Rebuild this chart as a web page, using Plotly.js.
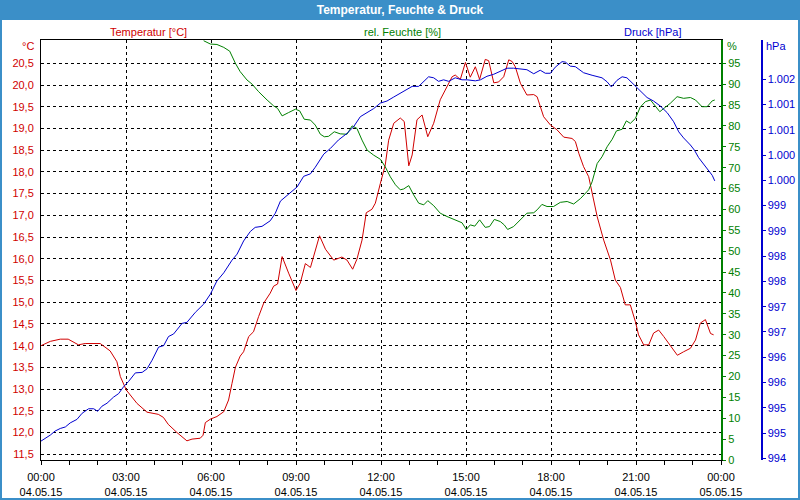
<!DOCTYPE html>
<html><head><meta charset="utf-8">
<script src="https://cdn.plot.ly/plotly-3.0.1.min.js"></script>
<style>html,body{margin:0;padding:0;background:#fff}#chart{width:800px;height:500px}</style>
</head><body><div id="chart"></div>
<script>
const chartTitle = "Temperatur, Feuchte & Druck";
const seriesNames = ["Temperatur [°C]", "rel. Feuchte [%]", "Druck [hPa]"];
const unitLabels = ["°C", "%", "hPa"];

const tempHours = [0,0.33,0.68,0.96,1.32,1.56,2.09,2.44,2.68,2.80,3.01,3.39,3.74,4.14,4.32,4.49,4.80,5.15,5.33,5.62,5.72,5.80,5.98,6.21,6.45,6.62,6.74,6.86,7.03,7.15,7.33,7.50,7.68,7.86,8.09,8.21,8.35,8.51,8.74,9.00,9.15,9.33,9.51,9.68,9.83,10.04,10.33,10.62,10.80,11.00,11.15,11.33,11.48,11.68,11.80,11.98,12.15,12.27,12.45,12.68,12.82,12.98,13.10,13.27,13.45,13.65,13.86,14.09,14.33,14.51,14.62,14.80,14.98,15.15,15.33,15.48,15.68,15.80,15.98,16.15,16.33,16.51,16.63,16.74,16.92,17.15,17.39,17.51,17.74,17.98,18.21,18.45,18.74,18.86,18.98,19.15,19.33,19.45,19.63,19.86,20.10,20.27,20.45,20.62,20.80,20.98,21.09,21.27,21.45,21.62,21.80,21.98,22.15,22.33,22.46,22.68,22.92,23.10,23.27,23.45,23.63,23.74];
const tempValues = [14.00,14.10,14.15,14.15,14.02,14.05,14.05,13.88,13.63,13.29,12.98,12.67,12.47,12.42,12.35,12.19,12.00,11.81,11.85,11.87,11.94,12.23,12.31,12.37,12.48,12.75,13.13,13.50,13.76,13.86,14.21,14.32,14.67,14.98,15.21,15.37,15.42,16.05,15.67,15.27,15.44,15.89,15.80,16.20,16.53,16.22,15.97,16.04,15.97,15.76,15.99,16.43,17.06,17.14,17.28,17.74,18.16,18.73,19.12,19.24,19.16,18.14,18.39,19.20,19.31,18.81,19.12,19.66,19.96,20.19,20.23,20.13,20.52,20.18,20.42,20.13,20.59,20.56,20.05,20.07,20.19,20.58,20.54,20.42,20.04,19.77,19.78,19.73,19.27,19.08,18.97,18.80,18.77,18.70,18.43,18.12,17.89,17.51,16.97,16.43,15.97,15.51,15.34,14.94,14.94,14.55,14.25,14.02,14.02,14.29,14.36,14.21,14.06,13.90,13.78,13.86,13.94,14.13,14.52,14.60,14.28,14.25];

const humHours = [5.74,5.98,6.21,6.45,6.66,6.86,7.03,7.27,7.45,7.68,7.98,8.21,8.35,8.51,8.74,8.98,9.13,9.29,9.51,9.68,9.86,10.00,10.15,10.35,10.56,10.80,10.98,11.15,11.33,11.51,11.74,11.98,12.15,12.33,12.51,12.68,12.80,12.98,13.15,13.33,13.51,13.65,13.86,14.09,14.33,14.62,14.86,15.01,15.15,15.31,15.48,15.68,15.83,16.00,16.21,16.35,16.47,16.68,16.92,17.15,17.39,17.51,17.68,17.86,18.09,18.33,18.57,18.80,19.04,19.33,19.45,19.63,19.80,19.98,20.16,20.31,20.51,20.66,20.80,20.98,21.15,21.33,21.51,21.68,21.84,22.04,22.21,22.45,22.68,22.92,23.10,23.33,23.51,23.69,23.78];
const humValues = [100.4,99.6,99.5,98.8,97.9,95.0,93.0,91.0,90.0,88.2,86.2,84.8,84.2,82.4,83.2,84.0,83.6,81.6,81.4,80.2,78.0,77.4,77.5,78.6,78.1,78.0,80.0,79.4,76.6,74.2,73.0,72.0,70.2,67.8,65.9,64.7,64.9,65.7,63.5,61.5,61.1,62.1,60.9,59.1,58.3,57.5,56.8,55.2,56.3,56.0,57.5,55.7,55.9,57.6,57.1,56.3,55.2,55.9,57.5,59.1,59.2,59.9,61.2,60.7,60.7,61.7,61.9,61.3,62.6,64.7,66.6,71.0,72.6,75.0,76.8,78.8,79.2,81.2,80.6,81.8,84.5,85.8,86.2,84.6,83.4,84.5,85.4,87.0,86.6,86.8,86.2,84.6,84.6,86.0,86.2];

const presHours = [0,0.21,0.33,0.50,0.68,0.86,1.03,1.27,1.45,1.68,1.86,2.00,2.15,2.33,2.56,2.74,2.92,3.09,3.33,3.57,3.74,3.92,4.15,4.33,4.50,4.68,4.98,5.15,5.45,5.74,5.98,6.21,6.45,6.74,6.92,7.15,7.39,7.56,7.80,8.09,8.27,8.45,8.68,8.80,9.04,9.27,9.51,9.68,9.98,10.21,10.50,10.80,11.03,11.27,11.51,11.74,11.98,12.21,12.45,12.68,12.92,13.10,13.33,13.51,13.68,13.86,14.03,14.21,14.39,14.62,14.86,15.04,15.33,15.51,15.74,15.98,16.21,16.45,16.68,16.92,17.15,17.39,17.62,17.80,17.98,18.15,18.39,18.51,18.68,18.86,19.15,19.45,19.80,19.98,20.13,20.33,20.51,20.68,20.86,21.04,21.21,21.39,21.62,21.86,22.10,22.33,22.51,22.68,22.92,23.06,23.21,23.39,23.56,23.69,23.78];
const presValues = [994.34,994.41,994.46,994.54,994.59,994.62,994.70,994.77,994.89,994.98,994.98,994.93,995.03,995.09,995.21,995.28,995.42,995.52,995.69,995.70,995.77,995.94,996.20,996.23,996.41,996.46,996.67,996.69,996.89,997.05,997.25,997.51,997.67,997.92,998.04,998.30,998.49,998.57,998.59,998.70,998.85,999.09,999.20,999.27,999.37,999.58,999.63,999.76,1000.02,1000.13,1000.30,1000.43,1000.56,1000.76,1000.84,1000.92,1001.03,1001.07,1001.15,1001.22,1001.30,1001.36,1001.36,1001.45,1001.55,1001.53,1001.46,1001.49,1001.46,1001.53,1001.49,1001.49,1001.47,1001.49,1001.56,1001.60,1001.66,1001.72,1001.72,1001.71,1001.69,1001.61,1001.68,1001.62,1001.62,1001.74,1001.85,1001.84,1001.76,1001.75,1001.63,1001.58,1001.53,1001.45,1001.35,1001.48,1001.55,1001.53,1001.43,1001.35,1001.24,1001.14,1001.07,1000.97,1000.84,1000.66,1000.46,1000.34,1000.20,1000.10,999.95,999.82,999.71,999.60,999.49];

const timeTickHours = [0,3,6,9,12,15,18,21,24];
const timeTickLabels = ["00:00<br>04.05.15","03:00<br>04.05.15","06:00<br>04.05.15","09:00<br>04.05.15","12:00<br>04.05.15","15:00<br>04.05.15","18:00<br>04.05.15","21:00<br>04.05.15","00:00<br>05.05.15"];
const tempTicks = [11.5,12,12.5,13,13.5,14,14.5,15,15.5,16,16.5,17,17.5,18,18.5,19,19.5,20,20.5];
const humTicks = [0,5,10,15,20,25,30,35,40,45,50,55,60,65,70,75,80,85,90,95];
const presTicks = [994,994.5,995,995.5,996,996.5,997,997.5,998,998.5,999,999.5,1000,1000.5,1001,1001.5];
const presTickLabels = ["994","995","995","996","996","997","997","998","998","999","999","1.000","1.000","1.001","1.001","1.002"];

// geometry (pixels)
const W = 800, H = 500, L = 41, R = 30, T = 40, B = 40;
const PW = W - L - R, PH = H - T - B;
const px = v => (v - L) / PW;
const py = v => (H - B - v) / PH;

const RED = '#d00000', GREEN = '#008000', BLUE = '#0000d0', BAR = '#3b8fc8';
const FONT = 'Liberation Sans, Arial, sans-serif';

const traces = [
  {x: tempHours, y: tempValues, type: 'scatter', mode: 'lines', line: {color: RED, width: 1}, yaxis: 'y', name: seriesNames[0], hoverinfo: 'skip'},
  {x: humHours, y: humValues, type: 'scatter', mode: 'lines', line: {color: GREEN, width: 1}, yaxis: 'y2', name: seriesNames[1], hoverinfo: 'skip'},
  {x: presHours, y: presValues, type: 'scatter', mode: 'lines', line: {color: BLUE, width: 1}, yaxis: 'y3', name: seriesNames[2], hoverinfo: 'skip'}
];

const grid = {showgrid: true, gridcolor: '#000', gridwidth: 1, griddash: '3px,3px'};

const layout = {
  width: W, height: H,
  margin: {l: L, r: R, t: T, b: B, pad: 0},
  paper_bgcolor: '#fff', plot_bgcolor: '#fff',
  separators: ',.',
  showlegend: false,
  font: {family: FONT, size: 11, color: '#000'},
  title: {text: chartTitle, x: 0.5, xref: 'container', xanchor: 'center', y: 1 - 10 / H, yref: 'container', yanchor: 'middle',
          font: {family: FONT, size: 12, color: '#fff', weight: 'bold'}},
  xaxis: Object.assign({
    range: [0, 24], domain: [0, px(721)], tickmode: 'array', tickvals: timeTickHours, ticktext: timeTickLabels,
    ticks: 'outside', ticklen: 4, tickcolor: '#000', tickwidth: 1, ticklabelstandoff: 3,
    showline: true, linecolor: '#000', linewidth: 1, mirror: true, zeroline: false,
    tickfont: {family: FONT, size: 11, color: '#000'},
    minor: {tickmode: 'linear', tick0: 0, dtick: 1, ticks: 'outside', ticklen: 4, tickcolor: '#000', showgrid: false}
  }, grid),
  yaxis: Object.assign({
    range: [11.369, 21.036], tickmode: 'array', tickvals: tempTicks, tickformat: '.1f',
    ticks: '', ticklabelstandoff: 4, showline: true, linecolor: '#000', linewidth: 1, zeroline: false,
    tickfont: {family: FONT, size: 11, color: RED}
  }, grid),
  yaxis2: {
    overlaying: 'y', side: 'right', anchor: 'x', range: [0, 100.57], tickmode: 'array', tickvals: humTicks,
    showgrid: false, zeroline: false, showline: true, linecolor: GREEN, linewidth: 2,
    ticks: 'outside', ticklen: 3, tickcolor: GREEN, tickfont: {family: FONT, size: 11, color: GREEN}
  },
  yaxis3: {
    overlaying: 'y', side: 'right', anchor: 'free', position: px(761), range: [993.966, 1002.278],
    tickmode: 'array', tickvals: presTicks, ticktext: presTickLabels,
    showgrid: false, zeroline: false, showline: true, linecolor: BLUE, linewidth: 1.5,
    ticks: 'outside', ticklen: 3, tickcolor: BLUE, tickfont: {family: FONT, size: 11, color: BLUE}
  },
  shapes: [
    {type: 'rect', xref: 'paper', yref: 'paper', x0: px(0), x1: px(800), y0: py(20), y1: py(0), fillcolor: BAR, line: {width: 0}, layer: 'below'},
    {type: 'rect', xref: 'paper', yref: 'paper', x0: px(1), x1: px(799), y0: py(499), y1: py(1), fillcolor: 'rgba(0,0,0,0)', line: {color: BAR, width: 2}, layer: 'above'}
  ],
  annotations: [
    {text: seriesNames[0], xref: 'paper', yref: 'paper', x: px(148), y: py(32), xanchor: 'center', yanchor: 'middle', showarrow: false, font: {family: FONT, size: 11, color: RED}},
    {text: seriesNames[1], xref: 'paper', yref: 'paper', x: px(402), y: py(32), xanchor: 'center', yanchor: 'middle', showarrow: false, font: {family: FONT, size: 11, color: GREEN}},
    {text: seriesNames[2], xref: 'paper', yref: 'paper', x: px(652), y: py(32), xanchor: 'center', yanchor: 'middle', showarrow: false, font: {family: FONT, size: 11, color: BLUE}},
    {text: unitLabels[0], xref: 'paper', yref: 'paper', x: px(36), y: py(46), xanchor: 'right', yanchor: 'middle', showarrow: false, font: {family: FONT, size: 11, color: RED}},
    {text: unitLabels[1], xref: 'paper', yref: 'paper', x: px(725), y: py(46), xanchor: 'left', yanchor: 'middle', showarrow: false, font: {family: FONT, size: 11, color: GREEN}},
    {text: unitLabels[2], xref: 'paper', yref: 'paper', x: px(764), y: py(46), xanchor: 'left', yanchor: 'middle', showarrow: false, font: {family: FONT, size: 11, color: BLUE}}
  ]
};

Plotly.newPlot('chart', traces, layout, {staticPlot: true, displayModeBar: false});
</script>
</body></html>
